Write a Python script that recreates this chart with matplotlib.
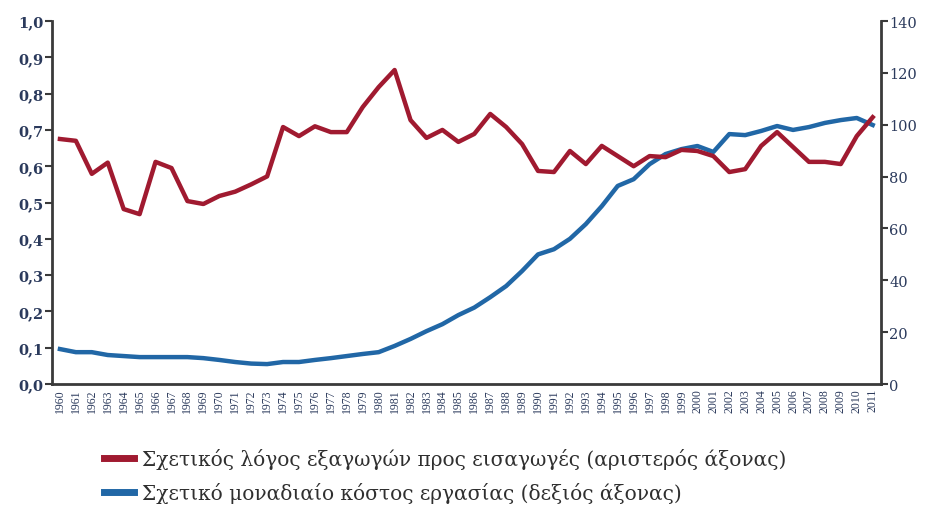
import numpy as np
import matplotlib.pyplot as plt
from matplotlib.lines import Line2D

# Years on the x axis
years = list(range(1960, 2012))

# Relative export/import ratio (left axis)
export_ratio = [0.675, 0.670, 0.579, 0.610, 0.482, 0.468, 0.612, 0.595, 0.504, 0.496,
                0.518, 0.530, 0.550, 0.572, 0.708, 0.683, 0.710, 0.694, 0.694, 0.763,
                0.818, 0.865, 0.727, 0.678, 0.700, 0.667, 0.689, 0.744, 0.708, 0.661,
                0.587, 0.584, 0.642, 0.606, 0.656, 0.628, 0.600, 0.628, 0.625, 0.645,
                0.642, 0.628, 0.584, 0.592, 0.656, 0.694, 0.653, 0.612, 0.612, 0.606,
                0.683, 0.735]

# Relative unit labour cost (right axis)
labour_cost = [13.5, 12.3, 12.3, 11.2, 10.8, 10.4, 10.4, 10.4, 10.4, 10.0,
               9.3, 8.5, 7.9, 7.7, 8.5, 8.5, 9.3, 10.0, 10.8, 11.6,
               12.3, 14.7, 17.4, 20.4, 23.1, 26.6, 29.5, 33.5, 37.8, 43.6,
               50.0, 52.0, 56.0, 61.7, 68.6, 76.4, 79.0, 84.8, 88.7, 90.6,
               91.8, 89.5, 96.4, 96.0, 97.6, 99.5, 98.0, 99.1, 100.7, 101.8,
               102.6, 99.9]

left_ticks = [0.0, 0.1, 0.2, 0.3, 0.4, 0.5, 0.6, 0.7, 0.8, 0.9, 1.0]
right_ticks = [0, 20, 40, 60, 80, 100, 120, 140]

label_red = "Σχετικός λόγος εξαγωγών προς εισαγωγές (αριστερός άξονας)"
label_blue = "Σχετικό μοναδιαίο κόστος εργασίας (δεξιός άξονας)"

red = "#a01a30"
blue = "#2167a6"
spine_col = "#3a3a3a"
tick_col = "#2b3a5c"

plt.rcParams['font.family'] = ['Liberation Serif', 'DejaVu Serif']

fig = plt.figure(figsize=(9.28, 5.06), dpi=100)
ax = fig.add_axes([0.056, 0.239, 0.893, 0.7175])
ax2 = ax.twinx()

ax.plot(years, export_ratio, color=red, lw=3.2, solid_joinstyle='round', zorder=3)
ax2.plot(years, labour_cost, color=blue, lw=3.2, solid_joinstyle='round', zorder=2)
ax.set_zorder(ax2.get_zorder() + 1)
ax.patch.set_visible(False)

ax.set_xlim(1959.5, 2011.5)
ax.set_ylim(0, 1.0)
ax2.set_ylim(0, 140)

ax.set_yticks(left_ticks)
ax.set_yticklabels([f"{t:.1f}".replace('.', ',') for t in left_ticks],
                   family='DejaVu Serif', fontweight='bold', fontsize=10.5, color=tick_col)
ax2.set_yticks(right_ticks)
ax2.set_yticklabels([str(t) for t in right_ticks],
                    family='DejaVu Serif', fontsize=10.5, color=tick_col)

ax.set_xticks(years)
ax.set_xticklabels([str(y) for y in years], rotation=90, fontsize=8.5, color=tick_col)

for a in (ax, ax2):
    a.spines['top'].set_visible(False)
    for s in ('left', 'right', 'bottom'):
        a.spines[s].set_color(spine_col)
        a.spines[s].set_linewidth(2)
ax.spines['right'].set_visible(False)
ax2.spines['left'].set_visible(False)
ax2.spines['bottom'].set_visible(False)

ax.tick_params(axis='y', direction='out', length=5, width=1.5, color=spine_col, pad=1)
ax2.tick_params(axis='y', direction='out', length=5, width=1.5, color=spine_col, pad=1)
ax.tick_params(axis='x', length=0, pad=3)

# legend below the plot
handles = [Line2D([], [], color=red, lw=5), Line2D([], [], color=blue, lw=5)]
fig.legend(handles, [label_red, label_blue], loc='upper left',
           bbox_to_anchor=(0.103, 0.128), frameon=False,
           prop={'family': 'DejaVu Serif', 'size': 14.5},
           handlelength=1.5, handletextpad=0.4, labelspacing=0.62,
           labelcolor="#2f2f2f", borderaxespad=0)

fig.savefig("out.png", dpi=100)
